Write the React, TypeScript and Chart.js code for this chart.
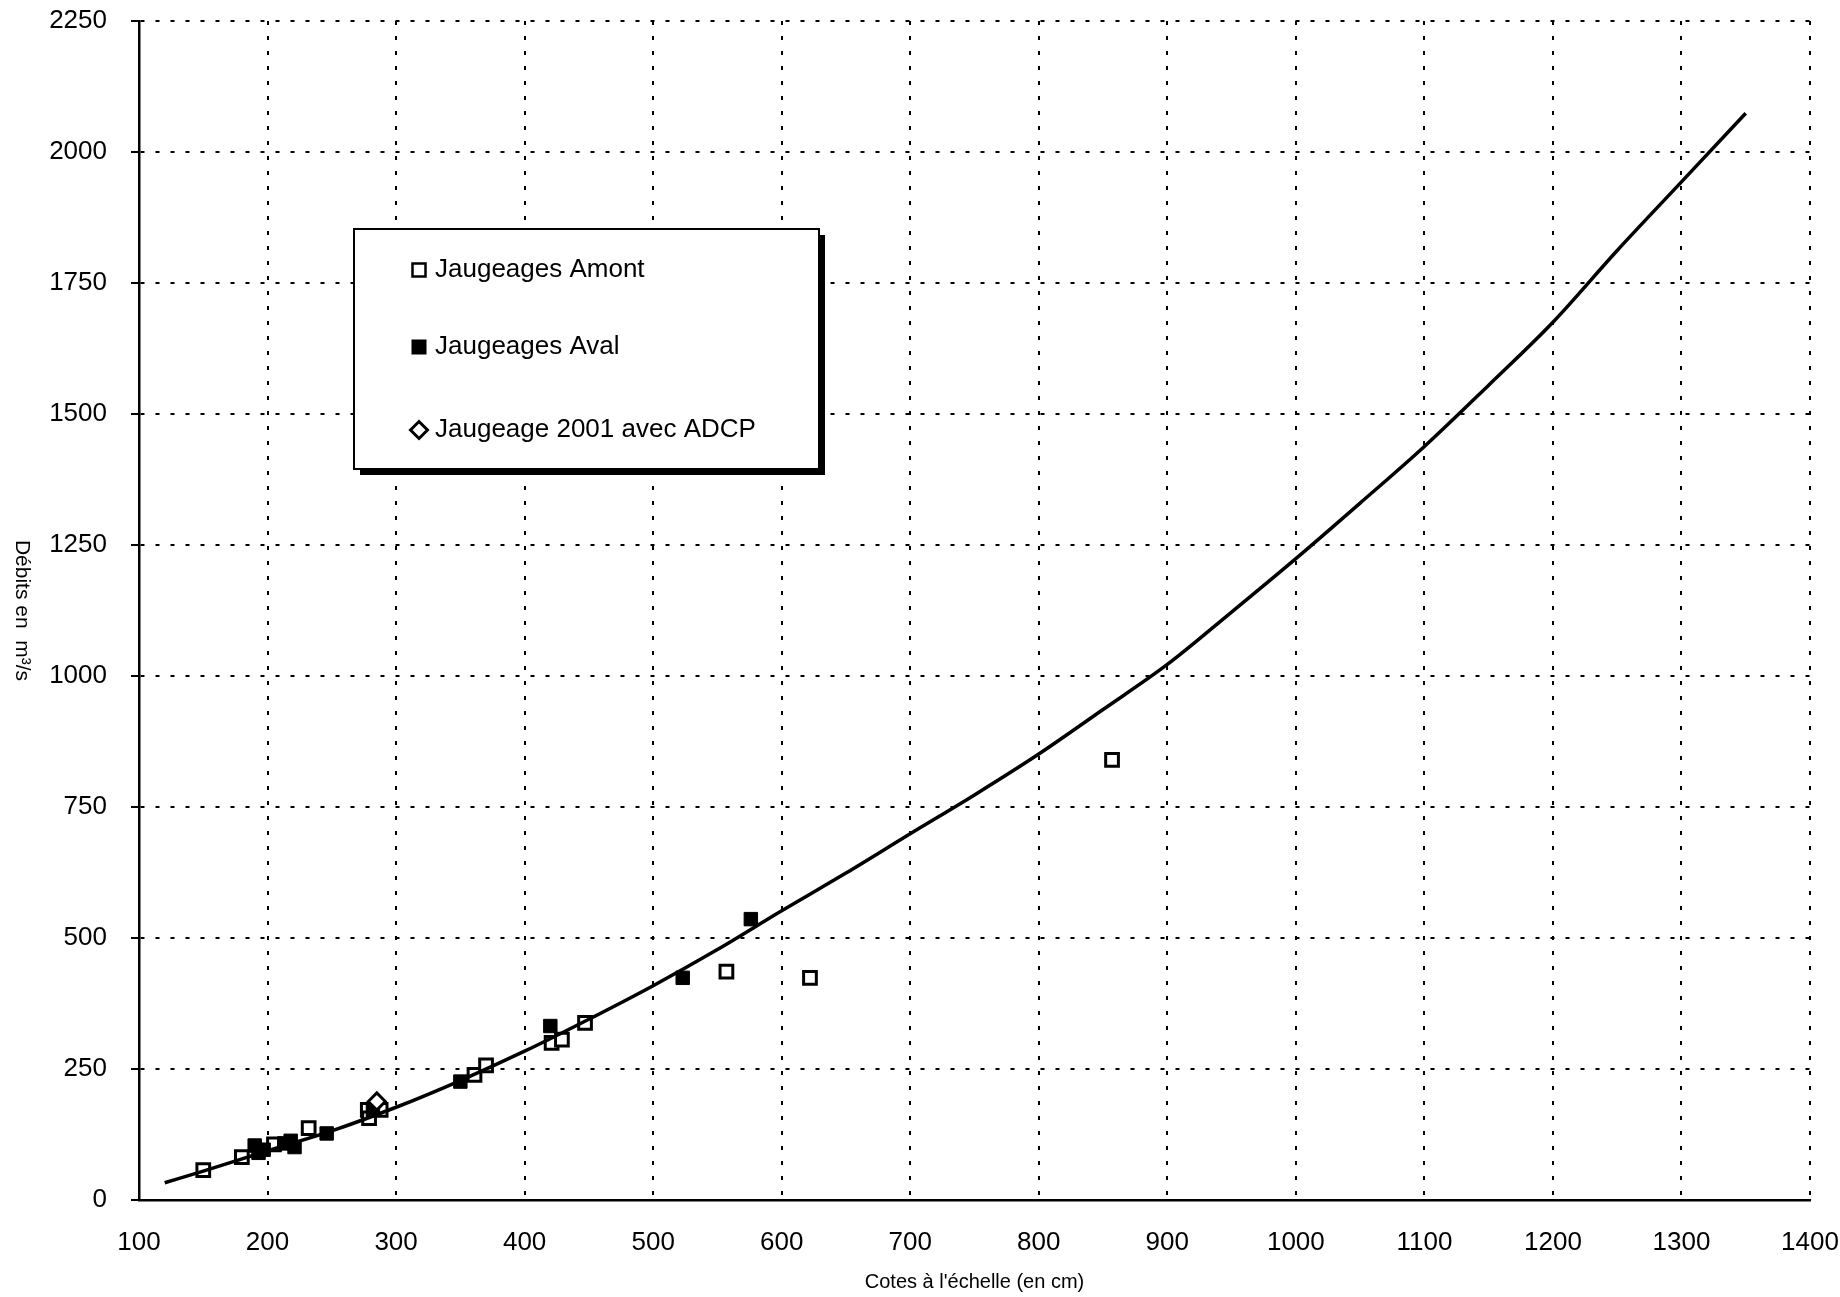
import React, { useEffect, useRef } from "react";
import { Chart, registerables } from "chart.js";

Chart.register(...registerables);

// Jaugeages Amont (cote en cm, débit en m3/s)
const amontCotes = [150, 180, 205, 232, 278, 279, 288, 361, 370, 421, 429, 447, 557, 622, 857];
const amontDebits = [57, 82, 106, 137, 172, 156, 172, 239, 257, 300, 306, 338, 436, 424, 840];

// Jaugeages Aval
const avalCotes = [190, 193, 197, 213, 218, 221, 246, 282, 350, 420, 523, 576];
const avalDebits = [104, 90, 96, 108, 113, 101, 127, 172, 226, 332, 424, 536];

// Jaugeage 2001 avec ADCP
const adcpCotes = [285];
const adcpDebits = [188];

// Courbe de tarage
const courbeCotes = [120, 150, 200, 250, 300, 350, 400, 450, 500, 550, 600, 650, 700, 750, 800, 850, 900, 950, 1000, 1050, 1100, 1150, 1200, 1250, 1300, 1350];
const courbeDebits = [33, 55, 94, 132, 177, 228, 284, 345, 409, 478, 552, 624, 699, 773, 851, 936, 1022, 1122, 1224, 1330, 1438, 1555, 1675, 1812, 1943, 2074];

const legendLabels = ["Jaugeages Amont", "Jaugeages Aval", "Jaugeage 2001 avec ADCP"];
const xTitle = "Cotes à l'échelle (en cm)";
const yTitle = "Débits en  m³/s";

const FONT = "'Liberation Sans', Arial, sans-serif";

const toPoints = (xs: number[], ys: number[]) => xs.map((x, i) => ({ x, y: ys[i] }));

const decorPlugin = {
  id: "decor",
  afterDraw(chart: any) {
    const ctx: CanvasRenderingContext2D = chart.ctx;
    ctx.save();

    // y axis title, read top to bottom
    ctx.font = `21px ${FONT}`;
    ctx.fillStyle = "#000";
    ctx.textAlign = "center";
    ctx.textBaseline = "middle";
    const area = chart.chartArea;
    ctx.translate(22, (area.top + area.bottom) / 2);
    ctx.rotate(Math.PI / 2);
    ctx.fillText(yTitle, 0, 0);
    ctx.restore();

    // legend box with drop shadow
    ctx.save();
    const bx = 354, by = 229, bw = 465, bh = 240;
    ctx.fillStyle = "#000";
    ctx.fillRect(bx + 6, by + 6, bw, bh);
    ctx.fillStyle = "#fff";
    ctx.fillRect(bx, by, bw, bh);
    ctx.strokeStyle = "#000";
    ctx.lineWidth = 2;
    ctx.strokeRect(bx, by, bw, bh);

    const mx = 419;
    const rows = [270, 347, 430];
    ctx.lineWidth = 2.5;
    // open square
    ctx.fillStyle = "#fff";
    ctx.fillRect(mx - 6.5, rows[0] - 6.5, 13, 13);
    ctx.strokeRect(mx - 6.5, rows[0] - 6.5, 13, 13);
    // filled square
    ctx.fillStyle = "#000";
    ctx.fillRect(mx - 7.5, rows[1] - 7.5, 15, 15);
    // diamond
    ctx.beginPath();
    ctx.moveTo(mx - 8.5, rows[2]);
    ctx.lineTo(mx, rows[2] - 8.5);
    ctx.lineTo(mx + 8.5, rows[2]);
    ctx.lineTo(mx, rows[2] + 8.5);
    ctx.closePath();
    ctx.fillStyle = "#fff";
    ctx.fill();
    ctx.lineWidth = 3;
    ctx.stroke();

    ctx.fillStyle = "#000";
    ctx.font = `26px ${FONT}`;
    ctx.textAlign = "left";
    ctx.textBaseline = "middle";
    legendLabels.forEach((t, i) => ctx.fillText(t, 435, rows[i]));
    ctx.restore();
  },
};

export default function App() {
  const ref = useRef<HTMLCanvasElement | null>(null);

  useEffect(() => {
    if (!ref.current) return;
    const gridDash = [4, 11];
    const plain = (v: any) => String(v);
    const chart = new Chart(ref.current, {
      type: "scatter",
      data: {
        datasets: [
          {
            label: "Courbe",
            data: toPoints(courbeCotes, courbeDebits),
            showLine: true,
            borderColor: "#000",
            borderWidth: 3.5,
            pointRadius: 0,
            cubicInterpolationMode: "monotone",
          } as any,
          {
            label: legendLabels[2],
            data: toPoints(adcpCotes, adcpDebits),
            pointStyle: "rectRot",
            pointRadius: 8.5,
            backgroundColor: "#fff",
            borderColor: "#000",
            borderWidth: 3,
          },
          {
            label: legendLabels[1],
            data: toPoints(avalCotes, avalDebits),
            pointStyle: "rect",
            pointRadius: 9.5,
            backgroundColor: "#000",
            borderColor: "#000",
            borderWidth: 1,
          },
          {
            label: legendLabels[0],
            data: toPoints(amontCotes, amontDebits),
            pointStyle: "rect",
            pointRadius: 9,
            backgroundColor: "#fff",
            borderColor: "#000",
            borderWidth: 3,
          },
        ],
      },
      options: {
        animation: false,
        responsive: false,
        devicePixelRatio: 1,
        layout: { padding: { top: 21, right: 30, bottom: 0, left: 0 } },
        plugins: { legend: { display: false }, tooltip: { enabled: false } },
        scales: {
          x: {
            type: "linear",
            min: 100,
            max: 1400,
            afterFit: (s: any) => {
              s.height = 97;
              s.paddingLeft = 0;
              s.paddingRight = 0;
            },
            ticks: {
              stepSize: 100,
              color: "#000",
              padding: 27,
              font: { family: FONT, size: 26 },
              callback: plain,
            },
            grid: { color: "#000", lineWidth: 2, drawTicks: false },
            border: { display: true, color: "#000", width: 2.5, dash: gridDash },
            title: {
              display: true,
              text: xTitle,
              color: "#000",
              font: { family: FONT, size: 20 },
              padding: { top: 0, bottom: 3 },
            },
          },
          y: {
            type: "linear",
            min: 0,
            max: 2250,
            afterFit: (s: any) => {
              s.width = 139;
              s.paddingTop = 0;
              s.paddingBottom = 0;
            },
            ticks: {
              stepSize: 250,
              color: "#000",
              padding: 24,
              font: { family: FONT, size: 26 },
              callback: plain,
            },
            grid: {
              color: "#000",
              lineWidth: 2,
              drawTicks: true,
              tickLength: 8,
              tickColor: "#000",
              tickWidth: 2,
              tickBorderDash: [],
            },
            border: { display: true, color: "#000", width: 2.5, dash: gridDash },
          },
        },
      },
      plugins: [decorPlugin],
    });
    return () => chart.destroy();
  }, []);

  return (
    <canvas
      ref={ref}
      width={1840}
      height={1297}
      style={{ position: "fixed", left: 0, top: 0, width: 1840, height: 1297, background: "#fff" }}
    />
  );
}
